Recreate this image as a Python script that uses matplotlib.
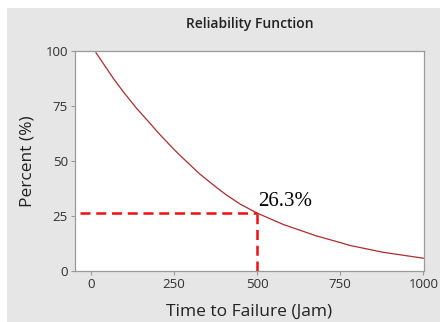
import matplotlib
matplotlib.use('Agg')
import matplotlib.pyplot as plt
from matplotlib.patches import Rectangle

# values
time_to_failure = [16, 68, 98, 138, 183, 203, 250, 278, 328, 379, 409, 450,
                   500, 579, 679, 750, 779, 879, 1000]
percent = [99.0, 87.4, 81.3, 73.8, 66.2, 62.7, 55.2, 51.1, 44.0, 37.8, 34.4,
           30.3, 26.3, 21.1, 15.9, 12.9, 11.6, 8.5, 5.8]

marked_time = 500
marked_percent = 26.3
marked_label = '26.3%'

x_ticks = [0, 250, 500, 750, 1000]
y_ticks = [0, 25, 50, 75, 100]

W, H = 441, 322
fig = plt.figure(figsize=(W / 100, H / 100), dpi=100, facecolor='white')

# grey panel behind the plot (screenshot leaves a white margin top/left)
fig.patches.append(Rectangle((7 / W, 0), 433 / W, 1 - 8 / H,
                             transform=fig.transFigure, facecolor='#e6e6e6',
                             edgecolor='none', zorder=-5))

ax = fig.add_axes([75 / W, 1 - 271 / H, 349 / W, 220.5 / H])
ax.set_zorder(1)
ax.set_facecolor('white')

ax.plot(time_to_failure, percent, color='#ab2c2e', lw=0.9)

ax.plot([-33, marked_time], [marked_percent, marked_percent],
        color='#f01010', lw=1.8, dashes=(4, 2.3))
ax.plot([marked_time, marked_time], [0, marked_percent],
        color='#f01010', lw=1.8, dashes=(4, 2.3))
ax.text(504, 29.5, marked_label, family='Liberation Serif', fontsize=15,
        color='black', ha='left', va='baseline')

ax.set_xlim(-47, 1002)
ax.set_ylim(0, 100)
ax.set_xticks(x_ticks)
ax.set_yticks(y_ticks)

for s in ax.spines.values():
    s.set_color('#9a9a9a')
    s.set_linewidth(0.9)
ax.tick_params(length=3, width=0.8, color='#9a9a9a', labelsize=9.5,
               labelcolor='#303030', pad=2)
for lab in ax.get_xticklabels() + ax.get_yticklabels():
    lab.set_family('Open Sans')

ax.set_title('Reliability Function', family='Open Sans', fontsize=10,
             fontweight='semibold', color='#222222', pad=16)
ax.set_xlabel('Time to Failure (Jam)', family='Open Sans', fontsize=12.5,
              color='#222222', labelpad=9)
ax.set_ylabel('Percent (%)', family='Open Sans', fontsize=12.5,
              color='#222222', labelpad=7)

fig.savefig('out.png', dpi=100, facecolor=fig.get_facecolor())
